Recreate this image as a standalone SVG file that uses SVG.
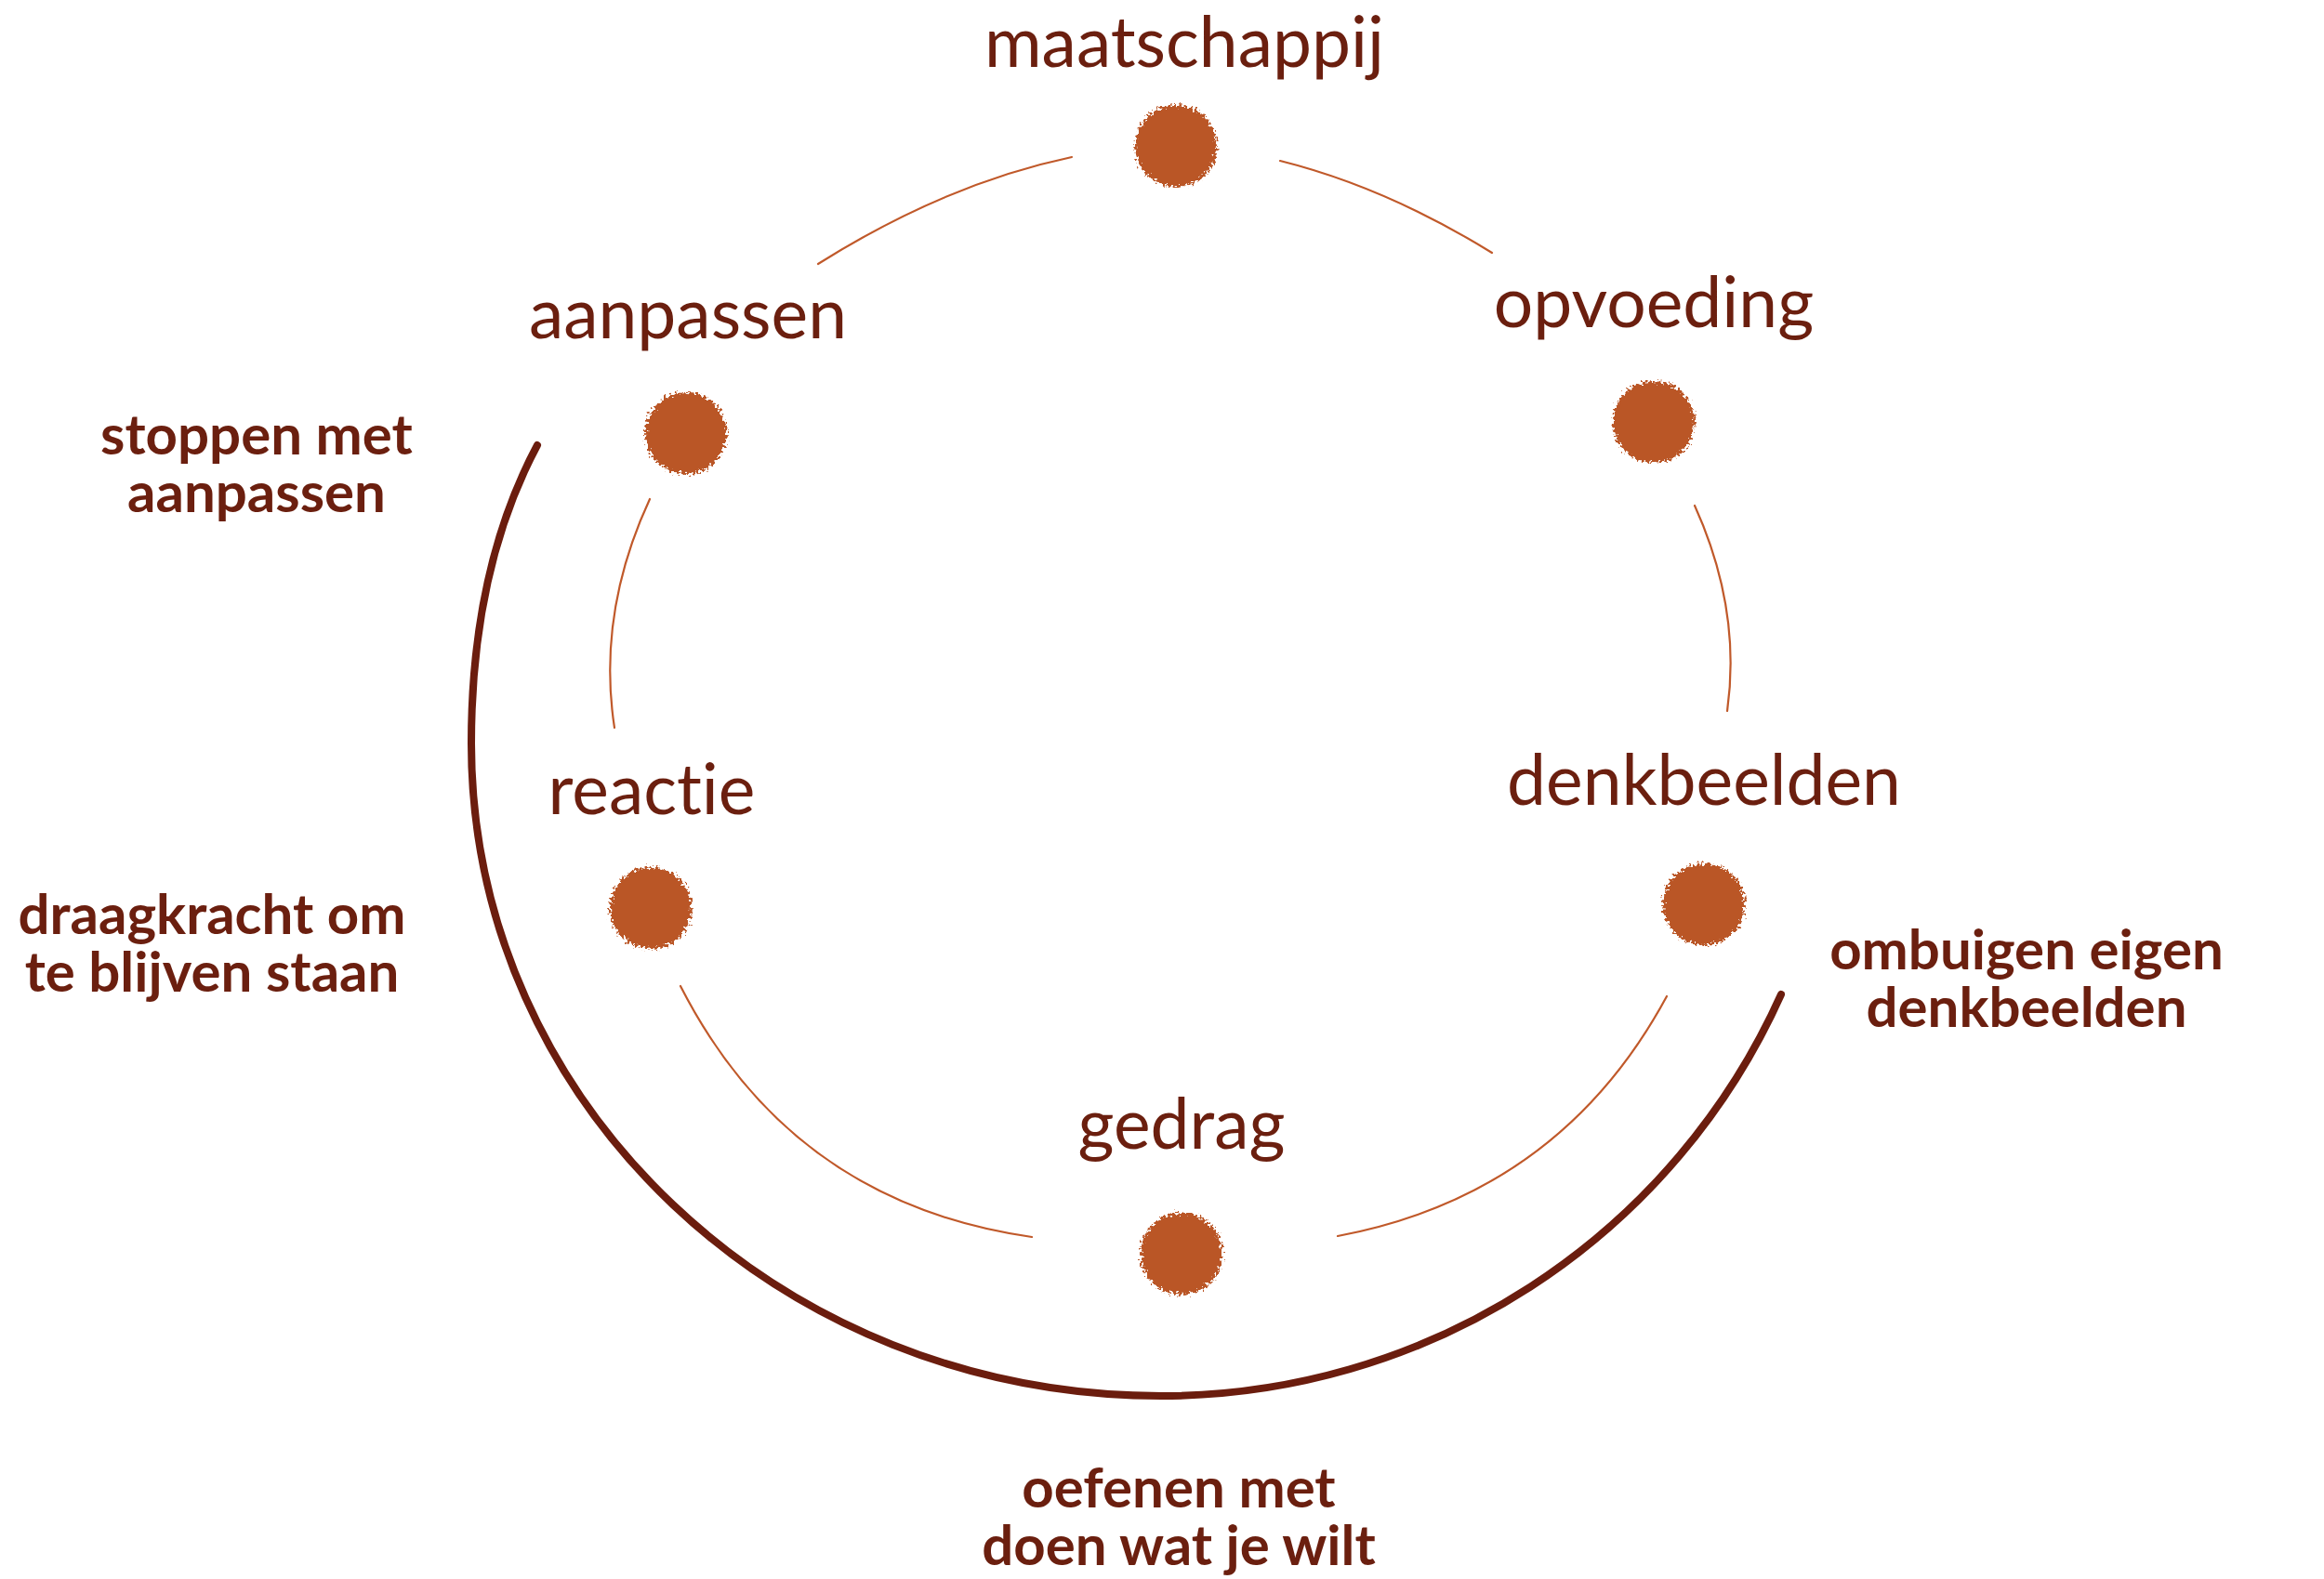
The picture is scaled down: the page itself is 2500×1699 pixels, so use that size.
<svg xmlns="http://www.w3.org/2000/svg" width="2500" height="1699" viewBox="0 0 2500 1699">
<style>
text{font-variant-ligatures:none;font-feature-settings:"liga" 0}
.lbl{font-family:Lato,"Liberation Sans",sans-serif;font-size:75px;fill:#6B1F0F;text-anchor:middle}
.note{font-family:Lato,"Liberation Sans",sans-serif;font-weight:bold;font-size:60px;fill:#6B1F0F;text-anchor:middle}
.dot{fill:#BA5627;filter:url(#rough)}
.thin{fill:none;stroke:#C0592A;stroke-width:2.2;stroke-linecap:round}
.thick{fill:none;stroke:#6B1D0E;stroke-width:8;stroke-linecap:round}
</style>
<defs>
<filter id="rough" x="-30%" y="-30%" width="160%" height="160%">
<feTurbulence type="fractalNoise" baseFrequency="0.35" numOctaves="2" seed="3" result="n"/>
<feDisplacementMap in="SourceGraphic" in2="n" scale="13" xChannelSelector="R" yChannelSelector="G"/>
</filter>
</defs>
<rect width="2500" height="1699" fill="#FFFFFF"/>
<g id="connectors">
<path class="thin" d="M1153 169 Q1017.5 197.5 880 284"/>
<path class="thin" d="M1377 173 Q1491 201.5 1605 272"/>
<path class="thin" d="M1823 544 Q1873.5 655.5 1858 765"/>
<path class="thin" d="M699 537 Q642 660 661 783"/>
<path class="thin" d="M732 1061 Q851 1294 1110 1331"/>
<path class="thin" d="M1793 1072 Q1678 1285 1439 1330"/>
<path class="thick" d="M578 479 C525.6 577.1 507 690 507 800 C507 1188 839 1502 1249 1502 A731 731 0 0 0 1916 1070"/>
</g>
<g id="node-maatschappij">
<text class="lbl" x="1274" y="72">maatschappij</text>
<circle class="dot" cx="1265" cy="157" r="44"/>
</g>
<g id="node-opvoeding">
<text class="lbl" x="1779" y="352">opvoeding</text>
<circle class="dot" cx="1779" cy="454" r="44"/>
</g>
<g id="node-denkbeelden">
<text class="lbl" x="1833" y="866">denkbeelden</text>
<circle class="dot" cx="1833" cy="973" r="44"/>
</g>
<g id="node-gedrag">
<text class="lbl" x="1271" y="1236">gedrag</text>
<circle class="dot" cx="1271" cy="1349" r="44"/>
</g>
<g id="node-reactie">
<text class="lbl" x="701" y="876">reactie</text>
<circle class="dot" cx="700" cy="977" r="44"/>
</g>
<g id="node-aanpassen">
<text class="lbl" x="740" y="364">aanpassen</text>
<circle class="dot" cx="738" cy="466" r="44"/>
</g>
<g id="note-stoppen">
<text class="note" x="276" y="489">stoppen met</text>
<text class="note" x="276" y="551">aanpassen</text>
</g>
<g id="note-draagkracht">
<text class="note" x="228" y="1005">draagkracht om</text>
<text class="note" x="228" y="1067">te blijven staan</text>
</g>
<g id="note-ombuigen">
<text class="note" x="2180" y="1043">ombuigen eigen</text>
<text class="note" x="2180" y="1105">denkbeelden</text>
</g>
<g id="note-oefenen">
<text class="note" x="1268" y="1622">oefenen met</text>
<text class="note" x="1268" y="1684">doen wat je wilt</text>
</g>
</svg>
